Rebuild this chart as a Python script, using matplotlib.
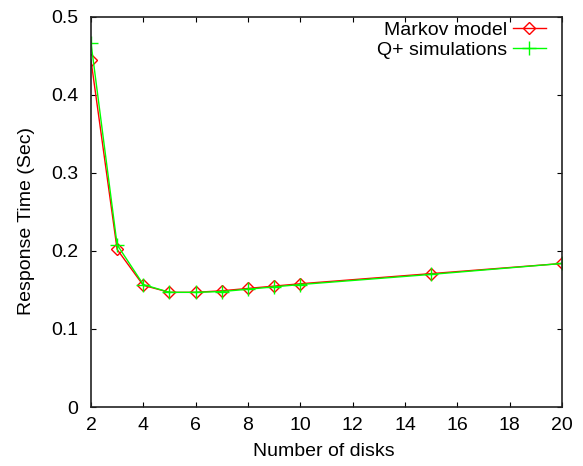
import matplotlib
matplotlib.use("Agg")
import matplotlib.pyplot as plt

plt.rcParams['font.family'] = ['Liberation Sans', 'DejaVu Sans']

disks = [2, 3, 4, 5, 6, 7, 8, 9, 10, 15, 20]
markov = [0.445, 0.202, 0.156, 0.147, 0.147, 0.149, 0.152, 0.155, 0.158, 0.171, 0.184]
qplus = [0.467, 0.208, 0.157, 0.147, 0.147, 0.148, 0.151, 0.154, 0.157, 0.170, 0.184]

fig = plt.figure(figsize=(5.83, 4.66), dpi=100)
ax = fig.add_axes([0.156, 0.1266, 0.808, 0.837])

ax.plot(disks, markov, color='red', lw=1, marker='D', ms=6, mfc='none', mec='red',
        mew=1, label='Markov model')
ax.plot(disks, qplus, color='#00ff00', lw=1, marker='+', ms=10, mew=1,
        label='Q+ simulations')

ax.set_xlim(2, 20)
ax.set_ylim(0, 0.5)
ax.set_xticks(range(2, 21, 2))
ax.set_yticks([0, 0.1, 0.2, 0.3, 0.4, 0.5])
ax.set_yticklabels(['0', '0.1', '0.2', '0.3', '0.4', '0.5'])
ax.tick_params(direction='in', top=True, right=True, length=3.5, labelsize=14)
ax.tick_params(axis='y', pad=9)
ax.tick_params(axis='x', pad=7)
for s in ax.spines.values():
    s.set_linewidth(1.2)
    s.set_color('#222222')

ax.set_xlabel('Number of disks', fontsize=14)
ax.set_ylabel('Response Time (Sec)', fontsize=14)
ax.xaxis.set_label_coords(0.494, -0.092)
ax.yaxis.set_label_coords(-0.119, 0.477)

ax.legend(loc='upper right', frameon=False, markerfirst=False, fontsize=14,
          handlelength=1.7, handletextpad=0.3, labelspacing=0.12,
          borderaxespad=0.0, bbox_to_anchor=(0.982, 1.008))

fig.savefig('out.png', dpi=100)
